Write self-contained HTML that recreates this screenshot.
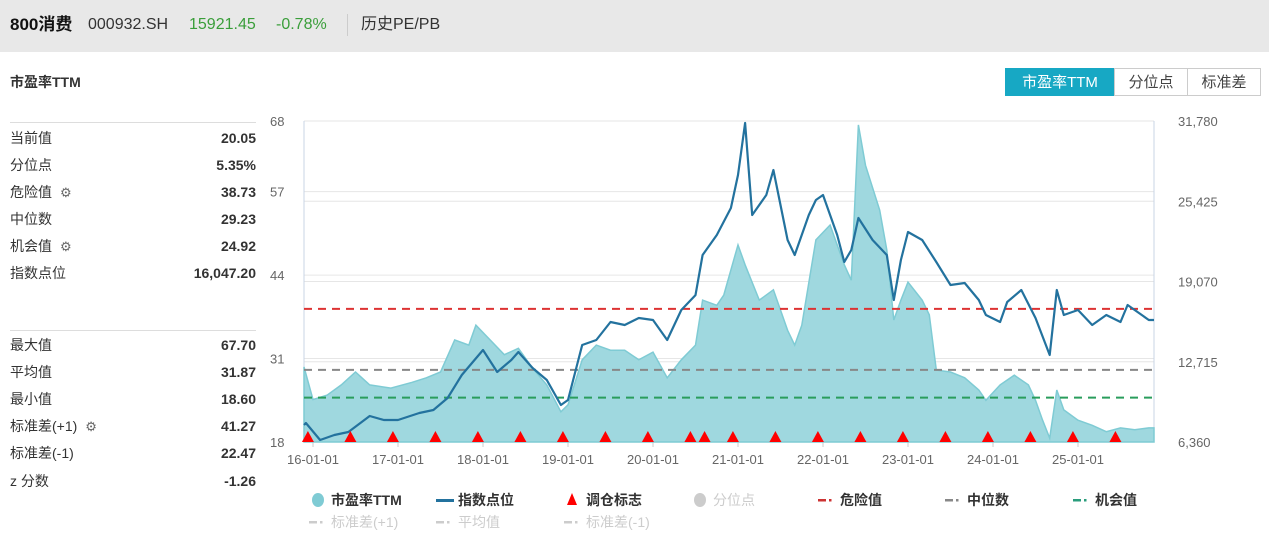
<!DOCTYPE html>
<html><head><meta charset="utf-8">
<style>
body{margin:0;width:1269px;height:542px;background:#fff;font-family:"Liberation Sans","Noto Sans CJK SC",sans-serif;overflow:hidden;position:relative;color:#333}
.hdr{position:absolute;left:0;top:0;width:1269px;height:52px;background:#e8e8e8}
.hdr span{position:absolute;top:14px;line-height:22px;font-size:16px;white-space:nowrap}
.ttl{position:absolute;left:10px;top:72px;font-size:14px;line-height:20px;font-weight:bold;color:#333}
.row{position:absolute;left:10px;width:246px;font-size:14px;height:20px;line-height:20px}
.row .l{position:absolute;left:0;top:0;color:#333;line-height:20px}
.row .v{position:absolute;right:0;top:0;font-weight:bold;color:#333;line-height:20px}
.gear{font-size:13px;color:#666;margin-left:8px}
.div{position:absolute;left:10px;width:246px;height:1px;background:#ddd}
.btn{position:absolute;top:68px;height:28px;line-height:28px;font-size:15px;text-align:center;border:1px solid #ccc;box-sizing:border-box;color:#444;background:#fff}
</style></head><body>
<div class="hdr">
<span style="left:10px;font-weight:bold;font-size:17px;color:#111">800消费</span>
<span style="left:88px;color:#333">000932.SH</span>
<span style="left:189px;color:#3a9e3a">15921.45</span>
<span style="left:276px;color:#3a9e3a">-0.78%</span>
<div style="position:absolute;left:347px;top:14px;width:1px;height:22px;background:#ccc"></div>
<span style="left:361px;color:#333">历史PE/PB</span>
</div>
<div class="ttl">市盈率TTM</div>
<div class="btn" style="left:1005px;width:110px;background:#17a8c4;border-color:#17a8c4;color:#fff">市盈率TTM</div>
<div class="btn" style="left:1114px;width:74px">分位点</div>
<div class="btn" style="left:1187px;width:74px">标准差</div>

<div class="div" style="top:122px"></div>
<div class="row" style="top:128px"><span class="l">当前值</span><span class="v">20.05</span></div>
<div class="row" style="top:155px"><span class="l">分位点</span><span class="v">5.35%</span></div>
<div class="row" style="top:182px"><span class="l">危险值<span class="gear">⚙</span></span><span class="v">38.73</span></div>
<div class="row" style="top:209px"><span class="l">中位数</span><span class="v">29.23</span></div>
<div class="row" style="top:236px"><span class="l">机会值<span class="gear">⚙</span></span><span class="v">24.92</span></div>
<div class="row" style="top:263px"><span class="l">指数点位</span><span class="v">16,047.20</span></div>
<div class="div" style="top:330px"></div>
<div class="row" style="top:335px"><span class="l">最大值</span><span class="v">67.70</span></div>
<div class="row" style="top:362px"><span class="l">平均值</span><span class="v">31.87</span></div>
<div class="row" style="top:389px"><span class="l">最小值</span><span class="v">18.60</span></div>
<div class="row" style="top:416px"><span class="l">标准差(+1)<span class="gear">⚙</span></span><span class="v">41.27</span></div>
<div class="row" style="top:443px"><span class="l">标准差(-1)</span><span class="v">22.47</span></div>
<div class="row" style="top:471px"><span class="l">z 分数</span><span class="v">-1.26</span></div>

<svg id="chart" width="1269" height="542" style="position:absolute;left:0;top:0"></svg>
<script>
const peDates=["2015-11","2016-01","2016-03","2016-05","2016-07","2016-09","2016-12","2017-03","2017-05","2017-07","2017-09","2017-11","2017-12","2018-02","2018-04","2018-06","2018-08","2018-10","2018-12","2019-01","2019-03","2019-05","2019-07","2019-09","2019-11","2020-01","2020-03","2020-05","2020-07","2020-08","2020-10","2020-11","2020-12","2021-01","2021-02","2021-04","2021-06","2021-08","2021-09","2021-10","2021-12","2022-02","2022-04","2022-05","2022-06","2022-07","2022-09","2022-10","2022-11","2022-12","2023-01","2023-03","2023-04","2023-05","2023-07","2023-09","2023-11","2023-12","2024-02","2024-04","2024-06","2024-07","2024-08","2024-09","2024-10","2024-11","2025-01","2025-03","2025-05","2025-07","2025-09","2025-11"];
const peValues=[29.7,24.6,25.3,26.9,28.9,26.9,26.4,27.3,28.0,28.9,33.9,33.1,36.2,33.9,31.6,32.6,29.5,26.9,22.7,23.8,30.8,33.1,32.3,32.3,30.8,32.0,28.0,30.8,33.1,40.1,39.3,40.9,44.8,48.7,45.6,40.1,41.7,35.4,33.1,36.2,49.5,51.8,45.6,43.2,67.4,61.1,54.1,47.9,37.0,40.1,42.9,40.1,37.8,29.2,28.9,28.0,26.1,24.5,26.9,28.4,26.9,24.5,21.4,18.6,26.1,23.0,21.4,20.6,19.6,20.2,19.9,20.2];
const idxDates=["2015-11","2015-12","2016-02","2016-04","2016-06","2016-09","2016-11","2017-01","2017-04","2017-06","2017-08","2017-10","2018-01","2018-03","2018-05","2018-06","2018-08","2018-10","2018-12","2019-01","2019-03","2019-05","2019-07","2019-09","2019-11","2020-01","2020-03","2020-05","2020-07","2020-08","2020-10","2020-12","2021-01","2021-02","2021-03","2021-05","2021-06","2021-08","2021-09","2021-11","2021-12","2022-01","2022-03","2022-04","2022-05","2022-06","2022-08","2022-10","2022-11","2022-12","2023-01","2023-03","2023-05","2023-07","2023-09","2023-11","2023-12","2024-02","2024-03","2024-05","2024-07","2024-09","2024-10","2024-11","2025-01","2025-03","2025-05","2025-07","2025-08","2025-10","2025-11"];
const idxValues=[7706,7865,6518,6914,7152,8419,8102,8102,8657,8894,9844,11666,13645,11903,12854,13487,12220,11270,9290,9686,14041,14437,15863,15625,16179,16021,14437,16813,17994,21168,22752,24890,27504,31622,24336,25920,27900,22356,21168,24336,25524,25920,22752,20614,21564,24098,22356,21168,17605,20772,22990,22356,20614,18793,18951,17605,16417,15863,17447,18397,16179,13249,18397,16417,16813,15625,16417,15863,17209,16417,16021];
const tradeDates=["2015-12","2016-06","2016-12","2017-06","2017-12","2018-06","2018-12","2019-06","2019-12","2020-06","2020-08","2020-12","2021-06","2021-12","2022-06","2022-12","2023-06","2023-12","2024-06","2024-12","2025-06"];
const leftTicks=[18,31,44,57,68];
const rightTicks=[6360,12715,19070,25425,31780];
const xTickLabels=["16-01-01","17-01-01","18-01-01","19-01-01","20-01-01","21-01-01","22-01-01","23-01-01","24-01-01","25-01-01"];
const refLines=[38.73,29.23,24.92];

const L=304,R=1154,T=121,B=442;
const svg=document.getElementById('chart');
const NS='http://www.w3.org/2000/svg';
function t(s){const p=s.split('-');return +p[0]+(+p[1]-1)/12;}
function xr(s){return 313+(t(s)-2016)*85;}
function x(s){return Math.max(L,Math.min(R,xr(s)));}
function yL(v){return B-(v-18)/(68-18)*(B-T);}
function yR(v){return B-(v-6360)/(31780-6360)*(B-T);}
function el(tag,a){const e=document.createElementNS(NS,tag);for(const k in a)e.setAttribute(k,a[k]);svg.appendChild(e);return e;}

leftTicks.forEach(v=>{const g=el('line',{x1:L,x2:R,y1:yL(v),y2:yL(v),stroke:'#e6e6e6','stroke-width':1});


const tx=el('text',{x:270,y:yL(v)+5,'font-size':13,fill:'#666','font-family':'Liberation Sans'});tx.textContent=v;

});
rightTicks.forEach(v=>{const g=el('line',{x1:L,x2:R,y1:yR(v),y2:yR(v),stroke:'#e6e6e6','stroke-width':1});


const tx=el('text',{x:1178,y:yR(v)+5,'font-size':13,fill:'#666','font-family':'Liberation Sans'});tx.textContent=v.toLocaleString('en-US');

});
el('line',{x1:L,x2:L,y1:T,y2:B,stroke:'#c8d4e6'});
el('line',{x1:R,x2:R,y1:T,y2:B,stroke:'#c8d4e6'});
xTickLabels.forEach(s=>{const d='20'+s.slice(0,2)+'-01';const xx=xr(d);
el('line',{x1:xx,x2:xx,y1:B,y2:B+5,stroke:'#ccc'});
const tx=el('text',{x:xx,y:B+22,'font-size':13,fill:'#666','text-anchor':'middle','font-family':'Liberation Sans'});tx.textContent=s;

});

let d='M'+L+','+B;
peDates.forEach((s,i)=>{d+=' L'+x(s).toFixed(1)+','+yL(peValues[i]).toFixed(1);});
d+=' L'+R+','+yL(peValues[peValues.length-1]).toFixed(1)+' L'+R+','+B+' Z';
const area=el('path',{d:d,fill:'#9fd8df',stroke:'#7fcbd4','stroke-width':1.5});



const rc=['#d33','#888','#2a9d5c'];const rn=['danger-line','median-line','opportunity-line'];
refLines.forEach((v,i)=>{const l=el('line',{x1:L,x2:R,y1:yL(v),y2:yL(v),stroke:rc[i],'stroke-width':2,'stroke-dasharray':'8,6'});

});

let p='';idxDates.forEach((s,i)=>{p+=(i?' L':'M')+x(s).toFixed(1)+','+yR(idxValues[i]).toFixed(1);});
p+=' L'+R+','+yR(idxValues[idxValues.length-1]).toFixed(1);
const il=el('path',{d:p,fill:'none',stroke:'#23729e','stroke-width':2.2,'stroke-linejoin':'round'});



tradeDates.forEach(s=>{const xx=x(s)+2;const tr=el('polygon',{points:(xx-6)+','+B+' '+(xx+6)+','+B+' '+xx+','+(B-11),fill:'#f00'});

});

function lg(xx,yy,type,col,label,tcol,name){
 const g=document.createElementNS(NS,'g');svg.appendChild(g);
 
 
 const add=(tag,a)=>{const e=document.createElementNS(NS,tag);for(const k in a)e.setAttribute(k,a[k]);g.appendChild(e);};
 if(type==='circle')add('ellipse',{cx:xx+5,cy:yy-5,rx:6,ry:7,fill:col});
 else if(type==='line')add('rect',{x:xx-4,y:yy-6,width:18,height:3,fill:col});
 else if(type==='tri')add('polygon',{points:(xx-1)+','+(yy)+' '+(xx+9)+','+yy+' '+(xx+4)+','+(yy-12),fill:col});
 else{add('rect',{x:xx-4,y:yy-6,width:8,height:2.5,fill:col});add('rect',{x:xx+7,y:yy-6,width:2.5,height:2.5,fill:col});}
 const tx=document.createElementNS(NS,'text');tx.setAttribute('x',xx+18);tx.setAttribute('y',yy);tx.setAttribute('font-size',14);tx.setAttribute('fill',tcol);tx.setAttribute('font-weight',tcol==='#333'?'bold':'normal');tx.textContent=label;g.appendChild(tx);
}
lg(313,505,'circle','#7fcbd4','市盈率TTM','#333','legend-pe-ttm');
lg(440,505,'line','#23729e','指数点位','#333','legend-index');
lg(568,505,'tri','#f00','调仓标志','#333','legend-rebalance');
lg(695,505,'circle','#ccc','分位点','#ccc','legend-percentile');
lg(822,505,'dash','#c33','危险值','#333','legend-danger');
lg(949,505,'dash','#888','中位数','#333','legend-median');
lg(1077,505,'dash','#2a9d7c','机会值','#333','legend-opportunity');
lg(313,527,'dash','#ccc','标准差(+1)','#ccc','legend-std-plus');
lg(440,527,'dash','#ccc','平均值','#ccc','legend-mean');
lg(568,527,'dash','#ccc','标准差(-1)','#ccc','legend-std-minus');
</script>
</body></html>
